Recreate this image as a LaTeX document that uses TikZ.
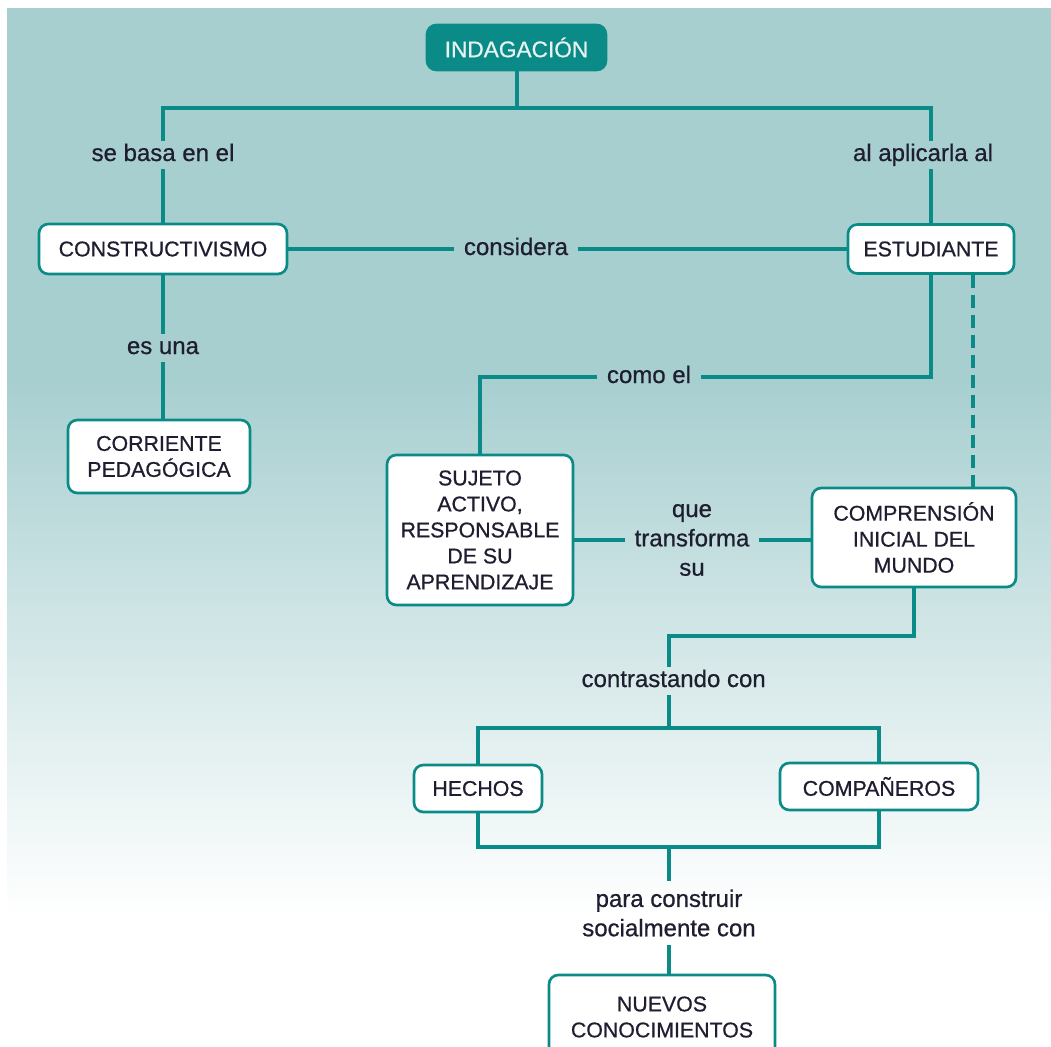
\documentclass[tikz,border=0pt]{standalone}
\usepackage{fontspec}
\setmainfont{Liberation Sans}[BoldFont={Liberation Sans},BoldFeatures={FakeBold=0.7}]
\definecolor{teal1}{HTML}{0B8B88}
\definecolor{bgteal}{HTML}{A8CFD0}
\definecolor{ink}{HTML}{1E1E30}
\definecolor{lighttext}{HTML}{E6F3F0}
\begin{document}
\begin{tikzpicture}[x=0.75pt,y=-0.75pt,
  conn/.style={draw=teal1,line width=3pt,line join=miter},
  sz/.style 2 args={minimum width=#1*0.75pt,minimum height=#2*0.75pt},
  box/.style={draw=teal1,line width=2pt,fill=white,rounded corners=7pt,text=ink,
    align=center,font=\fontsize{16}{19.5}\selectfont\bfseries,inner sep=0pt},
  lab/.style={text=ink,align=center,font=\fontsize{18}{22}\selectfont\bfseries,
    inner xsep=7pt,inner ysep=3pt,text height=12pt,text depth=3pt},
  lablines/.style={text=ink,align=center,font=\fontsize{18}{22}\selectfont\bfseries,
    inner xsep=7pt,inner ysep=6pt}]

% page and background
\useasboundingbox (0,0) rectangle (1051,1047);
\fill[white] (0,0) rectangle (1051,1047);
\fill[bgteal] (7,8) rectangle (1051,381);
\shade[top color=bgteal,bottom color=white] (7,380) rectangle (1051,915);

% concept boxes
\node[box,fill=teal1,text=lighttext,font=\fontsize{17}{20}\selectfont\bfseries,sz={179}{45}] (ind) at (516.5,47.5) {INDAGACIÓN};
\node[box,sz={248}{50}] (cons) at (163,249) {CONSTRUCTIVISMO};
\node[box,sz={166}{49}] (est) at (931,249) {ESTUDIANTE};
\node[box,sz={182}{73}] (corr) at (159,456.5) {CORRIENTE\\PEDAGÓGICA};
\node[box,sz={186}{150}] (suj) at (480,530) {SUJETO\\ACTIVO,\\RESPONSABLE\\DE SU\\APRENDIZAJE};
\node[box,sz={204}{99}] (comp) at (914,537.5) {COMPRENSIÓN\\INICIAL DEL\\MUNDO};
\node[box,sz={128}{47}] (hech) at (478,788.5) {HECHOS};
\node[box,sz={198}{47}] (compa) at (879,786.5) {COMPAÑEROS};
\node[box,sz={226}{84}] (nuev) at (662,1017) {NUEVOS\\CONOCIMIENTOS};

% linking phrases
\node[lab] (basa) at (163,155) {se basa en el};
\node[lab] (aplic) at (931,155) {\hspace*{-12pt}al aplicarla al};
\node[lab] (consid) at (516,249) {considera};
\node[lab] (esuna) at (163,348) {es una};
\node[lab] (comoel) at (649,377) {como el};
\node[lablines] (quetr) at (692,540) {que\\transforma\\su};
\node[lab] (contr) at (669,681) {\hspace*{7pt}contrastando con};
\node[lablines] (para) at (669,913) {para construir\\socialmente con};

% helper points
\coordinate (hub) at (516.5,108);
\coordinate (dx) at (973,0);
\coordinate (c1) at (669,636);
\coordinate (h2) at (669,728);
\coordinate (h3) at (669,847);

% connectors
\draw[conn] (ind) -- (hub);
\draw[conn] (basa) |- (hub) -| (aplic);
\draw[conn] (basa) -- (cons);
\draw[conn] (aplic) -- (est);
\draw[conn] (cons) -- (consid) -- (est);
\draw[conn] (cons) -- (esuna) -- (esuna |- corr.north);
\draw[conn] (est) |- (comoel) -| (suj);
\draw[conn,dash pattern=on 9.75pt off 5.25pt] (est.south -| dx) -- (comp.north -| dx);
\draw[conn] (suj.east |- quetr) -- (quetr.west);
\draw[conn] (quetr.east) -- (quetr -| comp.west);
\draw[conn] (comp) |- (c1) -- (contr);
\draw[conn] (contr) -- (h2);
\draw[conn] (hech) |- (h2) -| (compa);
\draw[conn] (hech) |- (h3) -| (compa);
\draw[conn] (h3) -- (para) -- (para |- nuev.north);
\end{tikzpicture}
\end{document}
